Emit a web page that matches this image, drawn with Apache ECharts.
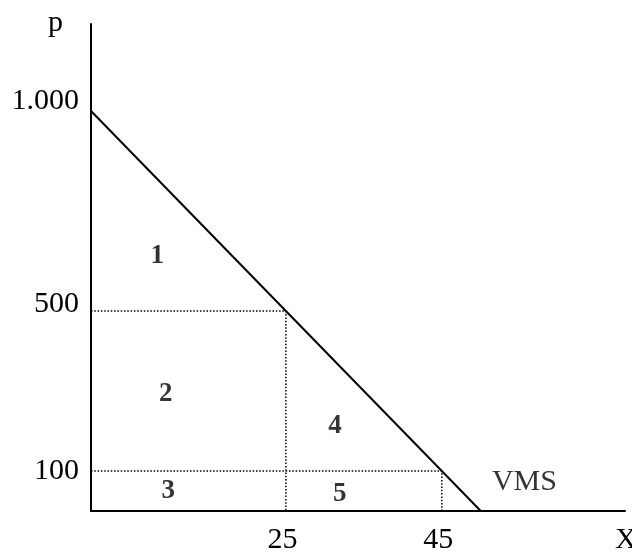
<!DOCTYPE html>
<html>
<head>
<meta charset="utf-8">
<title>VMS</title>
<script src="https://cdn.jsdelivr.net/npm/echarts@6.0.0/dist/echarts.min.js"></script>
<style>
  html, body { margin: 0; padding: 0; background: #fff; }
  #chart { width: 632px; height: 552px; }
</style>
</head>
<body>
<div id="chart"></div>
<script>
// demand line p = 1000 - 20x
var demandX = [0, 50];
var demandP = [1000, 0];

// dotted guides
var guide500X = [0, 25, 25];
var guide500P = [500, 500, 0];
var guide100X = [0, 45, 45];
var guide100P = [100, 100, 0];

// tick labels
var yTickValues = [100, 500, 1000];
var yTickLabels = ['100', '500', '1.000'];
var xTickValues = [25, 45];
var xTickLabels = ['25', '45'];

// area numbers and the VMS mark
var areaNames = ['1', '2', '3', '4', '5'];
var areaX = [8.5, 9.6, 9.9, 31.3, 31.9];
var areaP = [637, 292, 50, 212, 42];
var vmsX = 55.6;
var vmsP = 72;

var serif = '"Liberation Serif", "DejaVu Serif", serif';

function pairs(xs, ys) {
	var out = [];
	for (var i = 0; i < xs.length; i++) {
		out.push([xs[i], ys[i]]);
	}
	return out;
}

var areaData = [];
for (var i = 0; i < areaNames.length; i++) {
	areaData.push({ name: areaNames[i], value: [areaX[i], areaP[i]] });
}

// per label shift up, 1.000 and 500 sit a bit higher than their tick
var yShift = { '1000': 'a', '500': 'b', '100': 'c' };

var chart = echarts.init(document.getElementById('chart'));
chart.setOption({
	animation: false,
	grid: { left: 91, right: 7, top: 24, bottom: 41, containLabel: false, outerBoundsMode: 'none' },
	xAxis: {
		type: 'value',
		min: 0,
		max: 68.5,
		name: '\n\nX',
		nameLocation: 'end',
		nameGap: -10,
		nameTextStyle: { fontFamily: serif, fontSize: 30, lineHeight: 29, color: '#000', align: 'left', verticalAlign: 'middle' },
		axisLine: { show: true, lineStyle: { color: '#000', width: 2 } },
		axisTick: { show: false },
		splitLine: { show: false },
		axisLabel: {
			customValues: xTickValues,
			margin: 14,
			fontFamily: serif,
			fontSize: 30,
			color: '#000',
			padding: [0, 7, 0, 0],
			formatter: function (v) {
				return xTickLabels[xTickValues.indexOf(v)];
			}
		}
	},
	yAxis: {
		type: 'value',
		min: 0,
		max: 1217.5,
		name: 'p',
		nameLocation: 'end',
		nameGap: 1,
		nameTextStyle: { fontFamily: serif, fontSize: 30, color: '#000', align: 'right', verticalAlign: 'middle', padding: [0, 28, 0, 0] },
		axisLine: { show: true, onZero: false, lineStyle: { color: '#000', width: 2 } },
		axisTick: { show: false },
		splitLine: { show: false },
		axisLabel: {
			customValues: yTickValues,
			margin: 12,
			fontFamily: serif,
			fontSize: 30,
			color: '#000',
			formatter: function (v) {
				return '{' + yShift[v] + '|' + yTickLabels[yTickValues.indexOf(v)] + '}';
			},
			rich: {
				a: { fontFamily: serif, fontSize: 30, color: '#000', padding: [0, 0, 20, 0] },
				b: { fontFamily: serif, fontSize: 30, color: '#000', padding: [0, 0, 14, 0] },
				c: { fontFamily: serif, fontSize: 30, color: '#000' }
			}
		}
	},
	series: [
		{
			type: 'line',
			data: pairs(demandX, demandP),
			symbol: 'none',
			lineStyle: { color: '#000', width: 2 },
			z: 3
		},
		{
			type: 'line',
			data: pairs(guide500X, guide500P),
			symbol: 'none',
			lineStyle: { color: '#000', width: 1.5, type: [1.5, 1.8] }
		},
		{
			type: 'line',
			data: pairs(guide100X, guide100P),
			symbol: 'none',
			lineStyle: { color: '#000', width: 1.5, type: [1.5, 1.8] }
		},
		{
			type: 'scatter',
			data: areaData,
			symbolSize: 0,
			label: {
				show: true,
				position: 'inside',
				formatter: '{b}',
				fontFamily: serif,
				fontWeight: 'bold',
				fontSize: 27,
				color: '#000'
			}
		},
		{
			type: 'scatter',
			data: [{ name: 'VMS', value: [vmsX, vmsP] }],
			symbolSize: 0,
			label: {
				show: true,
				position: 'inside',
				formatter: '{b}',
				fontFamily: serif,
				fontSize: 30,
				color: '#000'
			}
		}
	]
});
</script>
</body>
</html>
